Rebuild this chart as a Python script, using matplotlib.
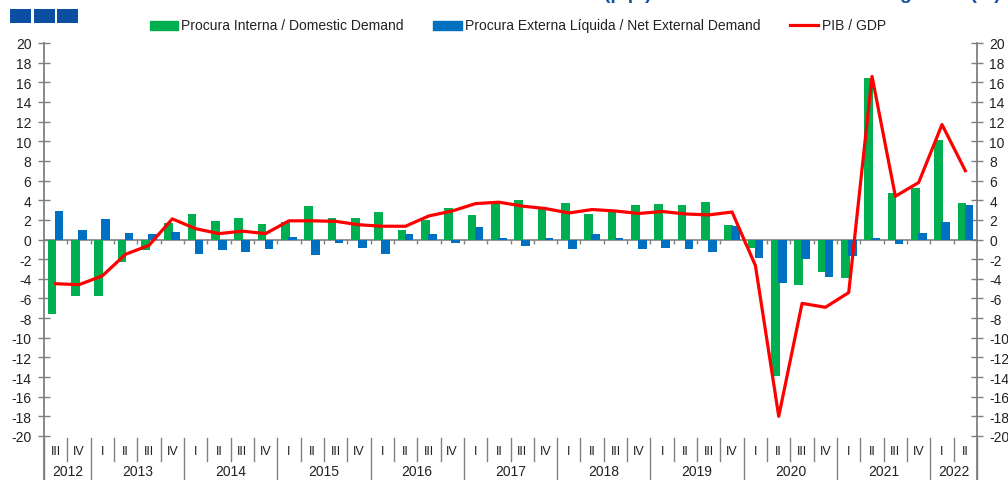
import matplotlib
matplotlib.use("Agg")
import matplotlib.pyplot as plt
from matplotlib.patches import Rectangle
from matplotlib.lines import Line2D
import numpy as np

# quarters from 2012 III to 2022 II
quarters = ["III", "IV"] + ["I", "II", "III", "IV"] * 9 + ["I", "II"]
years = ["2012", "2013", "2014", "2015", "2016", "2017", "2018", "2019", "2020", "2021", "2022"]
quarters_per_year = [2, 4, 4, 4, 4, 4, 4, 4, 4, 4, 2]

domestic = [-7.6, -5.7, -5.8, -2.3, -1.1, 1.7, 2.6, 1.9, 2.2, 1.6,
            1.75, 3.4, 2.2, 2.2, 2.8, 1.0, 2.0, 3.2, 2.45, 3.7,
            4.0, 3.3, 3.7, 2.6, 2.9, 3.55, 3.65, 3.55, 3.8, 1.45,
            -0.9, -13.9, -4.6, -3.3, -3.95, 16.4, 4.75, 5.25, 10.1, 3.7]
external = [2.95, 1.0, 2.1, 0.7, 0.55, 0.75, -1.5, -1.1, -1.3, -1.0,
            0.25, -1.6, -0.35, -0.85, -1.5, 0.55, 0.55, -0.4, 1.3, 0.15,
            -0.7, 0.2, -1.0, 0.6, 0.2, -0.95, -0.85, -0.95, -1.3, 1.35,
            -1.9, -4.4, -2.0, -3.8, -1.7, 0.17, -0.5, 0.7, 1.8, 3.5]
gdp = [-4.5, -4.6, -3.7, -1.5, -0.6, 2.1, 1.1, 0.6, 0.85, 0.6,
       1.9, 1.9, 1.85, 1.5, 1.35, 1.35, 2.4, 2.9, 3.65, 3.8,
       3.4, 3.15, 2.7, 3.05, 2.9, 2.65, 2.85, 2.6, 2.5, 2.8,
       -2.65, -18.0, -6.5, -6.9, -5.4, 16.6, 4.4, 5.8, 11.7, 7.0]

GREEN = "#00B050"
BLUE = "#0070C0"
RED = "#FF0000"
GREY = "#808080"

plt.rcParams['font.family'] = ['Liberation Sans', 'DejaVu Sans']
plt.rcParams['axes.unicode_minus'] = False

W, H = 1008, 481
fig = plt.figure(figsize=(W / 100, H / 100), dpi=100)
ax = fig.add_axes([44 / W, 44 / H, 933 / W, 393 / H])

x = np.arange(len(quarters))
ax.axhline(0, color=GREY, lw=1.2, zorder=1)
ax.bar(x - 0.15, domestic, width=0.37, color=GREEN, zorder=2)
ax.bar(x + 0.15, external, width=0.37, color=BLUE, zorder=3)
ax.plot(x, gdp, color=RED, lw=2.3, zorder=4)

ax.set_xlim(-0.5, len(quarters) - 0.5)
ax.set_ylim(-20, 20)
ax.set_yticks(range(-20, 21, 2))
ax.set_xticks([])
for s in ["top", "bottom"]:
    ax.spines[s].set_visible(False)
for s in ["left", "right"]:
    ax.spines[s].set_color(GREY)
    ax.spines[s].set_linewidth(1.3)
ax.tick_params(axis="y", direction="inout", length=8, width=1, color=GREY,
               labelsize=10, labelcolor="#222222", pad=5,
               left=True, right=True, labelleft=True, labelright=True)

# small ticks under the zero line at quarter boundaries
bounds = np.arange(len(quarters) + 1) - 0.5
ax.vlines(bounds[1:-1], -0.45, 0, color=GREY, lw=1, zorder=1)

# two-level category axis below the plot
trans = ax.get_xaxis_transform()
for i, q in enumerate(quarters):
    ax.text(i, -0.038, q, transform=trans, ha="center", va="center",
            fontsize=9, color="#222222")
year_edges = np.concatenate([[0], np.cumsum(quarters_per_year)])
for b in bounds:
    is_year = int(round(b + 0.5)) in year_edges
    y0 = -0.14 if is_year else -0.064
    ax.plot([b, b], [-0.006, y0], transform=trans, color=GREY, lw=1,
            clip_on=False)
for k, yr in enumerate(years):
    mid = (year_edges[k] + year_edges[k + 1] - 1) / 2
    ax.text(mid, -0.089, yr, transform=trans, ha="center", va="center",
            fontsize=10, color="#222222")
# spines run down to the bottom edge
for xa in [0, 1]:
    ax.plot([xa, xa], [0, -0.14], transform=ax.transAxes, color=GREY,
            lw=1.3, clip_on=False)

# header: three blue squares and the clipped title
for x0 in [10, 34, 57]:
    fig.patches.append(Rectangle((x0 / W, 1 - 24 / H), 21 / W, 14 / H,
                                 transform=fig.transFigure, facecolor="#0B4EA2",
                                 linewidth=0))
fig.text(652 / W, 1 + 1.5 / H, "Contributos (p.p.)", ha="right", va="baseline",
         fontsize=14, fontweight="bold", color="#1155A0")
fig.text(1001 / W, 1 + 1.5 / H, "Contributions to GDP growth (%)", ha="right",
         va="baseline", fontsize=14, fontweight="bold", color="#1155A0")

# legend row
ly = 1 - 26 / H
fig.patches.append(Rectangle((150 / W, 1 - 30.5 / H), 28 / W, 9 / H,
                             transform=fig.transFigure, color=GREEN))
fig.text(181 / W, ly, "Procura Interna / Domestic Demand", va="center",
         fontsize=10, color="#222222")
fig.patches.append(Rectangle((433 / W, 1 - 30.5 / H), 29 / W, 9 / H,
                             transform=fig.transFigure, color=BLUE))
fig.text(465 / W, ly, "Procura Externa Líquida / Net External Demand",
         va="center", fontsize=10, color="#222222")
fig.lines.append(Line2D([790 / W, 818 / W], [ly, ly], transform=fig.transFigure,
                        color=RED, lw=2.3))
fig.text(822 / W, ly, "PIB / GDP", va="center", fontsize=10, color="#222222")

fig.savefig("out.png", dpi=100)
